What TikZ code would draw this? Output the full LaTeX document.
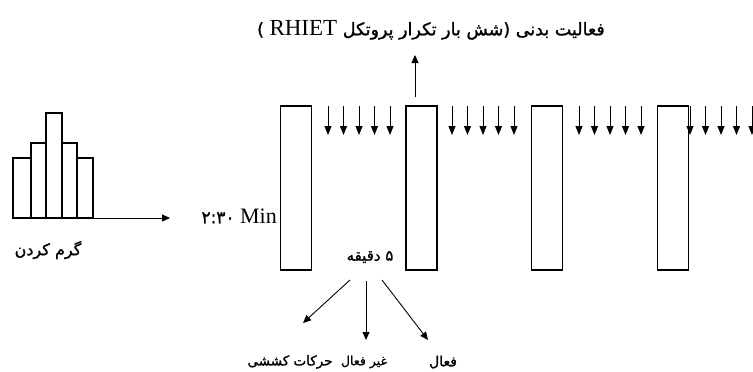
\documentclass[tikz,border=0pt]{standalone}
\usepackage{fontspec}
\setmainfont{Liberation Serif}
\newfontfamily\fa[Script=Arabic,FakeBold=1.2]{DejaVu Sans}
\TeXXeTstate=1
\usetikzlibrary{arrows.meta}
\newcommand{\fs}[1]{\fontsize{#1}{#1}\selectfont}
\begin{document}
\begin{tikzpicture}[x=1pt,y=-1pt,
  box/.style={draw,line width=1.6pt,minimum width=31pt,minimum height=164pt,inner sep=0pt},
  bar/.style={draw,line width=1.6pt},
  arr/.style={line width=0.9pt,-{Triangle[width=7pt,length=8pt]}},
  darr/.style={line width=0.9pt,-{Triangle[width=7pt,length=9pt]}},
  fatxt/.style={inner sep=0pt,font=\fa},
  lat/.style={inner sep=0pt,font=\fs{22}}]
\useasboundingbox[fill=white] (0,0) rectangle (753,372);
% histogram
\draw[bar] (13,218) rectangle (31,158);
\draw[bar] (31,218) rectangle (46,143);
\draw[bar] (46,218) rectangle (62,113);
\draw[bar] (62,218) rectangle (77,143);
\draw[bar] (77,218) rectangle (93,158);
\coordinate (hb) at (93,218);
\coordinate (he) at (170,218);
\draw[arr] (hb) -- (he);
\node[fatxt] (warm) at (48,250) {\fs{16}\beginR گرم کردن\endR};
\node[lat,anchor=east] (min) at (277,216) {{\fa\fs{17}۲:۳۰} Min};
% boxes
\node[box] (r1) at (296,188) {};
\node[box] (r2) at (421.5,188) {};
\node[box] (r3) at (547,188) {};
\node[box] (r4) at (673,188) {};
% small arrows
\foreach \g/\s in {1/328,2/452,3/579,4/690}{
  \foreach \i in {0,...,4}{
    \coordinate (a\g\i) at ({\s+15.5*\i},106);
    \coordinate (b\g\i) at ({\s+15.5*\i},135);
    \draw[darr] (a\g\i) -- (b\g\i);
  }
}
% up arrow and title
\coordinate (u0) at (415,97);
\coordinate (u1) at (415,55);
\draw[arr] (u0) -- (u1);
\node[inner sep=0pt,anchor=east] (title) at (605,30) {\fa\fs{17.5}\beginR فعالیت بدنی (شش بار تکرار پروتکل \beginL{\rmfamily\fs{23}RHIET}\endL{} )\endR};
% rest
\node[fatxt] (rest) at (370,257) {\fs{15}\beginR ۵ دقیقه\endR};
\node[fatxt] (stretch) at (290,362) {\fs{13.5}\beginR حرکات کششی\endR};
\node[fatxt] (passive) at (364,362) {\fs{12.5}\beginR غیر فعال\endR};
\node[fatxt] (active) at (443,362) {\fs{14}\beginR فعال\endR};
\coordinate (p1) at (350,280);
\coordinate (p2) at (366,281);
\coordinate (p3) at (382,280);
\coordinate (q1) at (303,323);
\coordinate (q2) at (366,340);
\coordinate (q3) at (428,340);
\draw[arr] (p1) -- (q1);
\draw[arr] (p2) -- (q2);
\draw[arr] (p3) -- (q3);
\end{tikzpicture}
\end{document}
